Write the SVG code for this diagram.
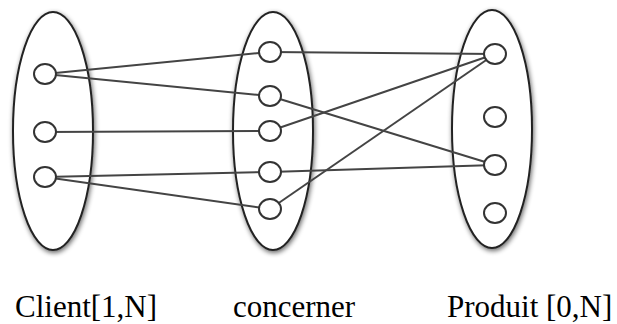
<svg xmlns="http://www.w3.org/2000/svg" width="617" height="324" viewBox="0 0 617 324">
<defs>
<filter id="sh" x="-30%" y="-10%" width="160%" height="120%">
<feGaussianBlur in="SourceAlpha" stdDeviation="2.5"/>
<feOffset dx="1" dy="2" result="b"/>
<feComponentTransfer><feFuncA type="linear" slope="0.6"/></feComponentTransfer>
<feMerge><feMergeNode/><feMergeNode in="SourceGraphic"/></feMerge>
</filter>
</defs>
<style>
.set{fill:#fff;stroke:#222;stroke-width:2;filter:url(#sh)}
.el{fill:#fff;stroke:#333;stroke-width:2}
.ln{stroke:#444;stroke-width:2;fill:none}
.lbl{font-family:"Liberation Serif","Times New Roman",serif;font-size:31px;fill:#000}
</style>
<g id="set-client"><ellipse class="set" cx="53" cy="131" rx="40" ry="119"/></g>
<g id="set-concerner"><ellipse class="set" cx="273" cy="131" rx="40" ry="119"/></g>
<g id="set-produit"><ellipse class="set" cx="492" cy="129" rx="40" ry="119"/></g>
<g id="connectors">
<line class="ln" x1="45" y1="74" x2="270" y2="52"/>
<line class="ln" x1="45" y1="74" x2="270" y2="96"/>
<line class="ln" x1="45" y1="132" x2="270" y2="131"/>
<line class="ln" x1="45" y1="177" x2="270" y2="172"/>
<line class="ln" x1="45" y1="177" x2="270" y2="209"/>
<line class="ln" x1="270" y1="52" x2="495" y2="54"/>
<line class="ln" x1="270" y1="96" x2="495" y2="165"/>
<line class="ln" x1="270" y1="131" x2="495" y2="54"/>
<line class="ln" x1="270" y1="172" x2="495" y2="165"/>
<line class="ln" x1="270" y1="209" x2="495" y2="54"/>
</g>
<g id="client-elements">
<ellipse class="el" cx="45" cy="74" rx="11" ry="10"/>
<ellipse class="el" cx="45" cy="132" rx="11" ry="10"/>
<ellipse class="el" cx="45" cy="177" rx="11" ry="10"/>
</g>
<g id="concerner-elements">
<ellipse class="el" cx="270" cy="52" rx="11" ry="10"/>
<ellipse class="el" cx="270" cy="96" rx="11" ry="10"/>
<ellipse class="el" cx="270" cy="131" rx="11" ry="10"/>
<ellipse class="el" cx="270" cy="172" rx="11" ry="10"/>
<ellipse class="el" cx="270" cy="209" rx="11" ry="10"/>
</g>
<g id="produit-elements">
<ellipse class="el" cx="495" cy="54" rx="11" ry="10"/>
<ellipse class="el" cx="495" cy="117" rx="11" ry="10"/>
<ellipse class="el" cx="495" cy="165" rx="11" ry="10"/>
<ellipse class="el" cx="495" cy="213" rx="11" ry="10"/>
</g>
<g id="labels">
<text class="lbl" x="15" y="317">Client[1,N]</text>
<text class="lbl" x="233" y="317">concerner</text>
<text class="lbl" x="447" y="317">Produit [0,N]</text>
</g>
</svg>
